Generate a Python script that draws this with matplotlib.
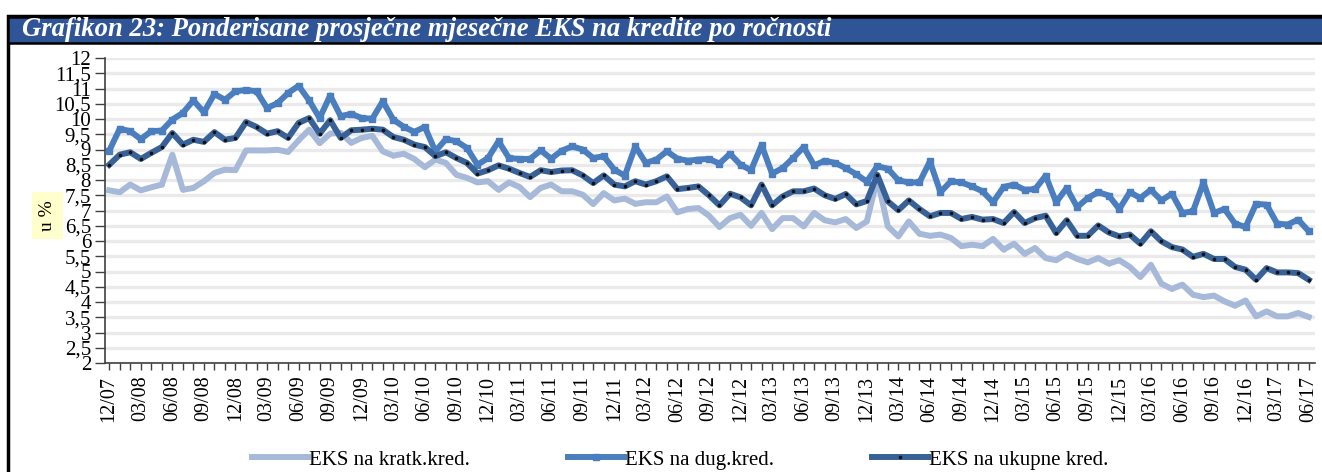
import matplotlib
matplotlib.use('Agg')
import matplotlib.pyplot as plt
from matplotlib.patches import Rectangle
import numpy as np
import pandas as pd

W, H = 1322, 472

# ---------------- data ----------------
months = pd.period_range('2007-12', '2017-06', freq='M')
month_labels = [p.strftime('%m/%y') for p in months]

kratk = [7.66, 7.60, 7.85, 7.66, 7.76, 7.85, 8.83, 7.68, 7.74, 7.96,
         8.23, 8.34, 8.32, 8.97, 8.97, 8.97, 8.99, 8.92, 9.30, 9.65,
         9.21, 9.52, 9.55, 9.22, 9.38, 9.45, 8.94, 8.80, 8.86, 8.69,
         8.42, 8.67, 8.56, 8.17, 8.07, 7.92, 7.96, 7.68, 7.92, 7.77,
         7.44, 7.74, 7.85, 7.63, 7.63, 7.52, 7.21, 7.57, 7.33, 7.39,
         7.22, 7.27, 7.27, 7.46, 6.94, 7.05, 7.08, 6.83, 6.46, 6.75,
         6.86, 6.50, 6.92, 6.39, 6.75, 6.75, 6.48, 6.92, 6.68, 6.61,
         6.72, 6.43, 6.64, 8.05, 6.48, 6.15, 6.64, 6.24, 6.17, 6.21,
         6.10, 5.83, 5.88, 5.83, 6.07, 5.72, 5.91, 5.58, 5.77, 5.44,
         5.37, 5.58, 5.41, 5.30, 5.44, 5.26, 5.37, 5.15, 4.82, 5.22,
         4.60, 4.43, 4.57, 4.24, 4.16, 4.21, 4.02, 3.88, 4.05, 3.53,
         3.69, 3.53, 3.53, 3.64, 3.51]

dug = [8.96, 9.68, 9.60, 9.34, 9.60, 9.62, 9.98, 10.20, 10.61, 10.22,
       10.82, 10.63, 10.91, 10.95, 10.91, 10.36, 10.52, 10.85, 11.09, 10.61,
       10.03, 10.77, 10.09, 10.17, 10.03, 10.01, 10.58, 9.98, 9.74, 9.58,
       9.74, 8.94, 9.34, 9.27, 9.05, 8.50, 8.72, 9.27, 8.72, 8.69,
       8.69, 8.97, 8.70, 8.96, 9.10, 9.00, 8.72, 8.78, 8.34, 8.14,
       9.10, 8.56, 8.67, 8.94, 8.70, 8.63, 8.67, 8.69, 8.54, 8.86,
       8.50, 8.32, 9.14, 8.21, 8.39, 8.72, 9.08, 8.48, 8.63, 8.56,
       8.39, 8.19, 7.95, 8.45, 8.37, 7.99, 7.92, 7.92, 8.61, 7.60,
       7.96, 7.92, 7.79, 7.63, 7.27, 7.77, 7.85, 7.68, 7.70, 8.14,
       7.27, 7.74, 7.11, 7.41, 7.60, 7.49, 7.05, 7.60, 7.41, 7.68,
       7.33, 7.55, 6.92, 6.97, 7.92, 6.92, 7.05, 6.57, 6.46, 7.22,
       7.19, 6.57, 6.54, 6.70, 6.32]

ukupne = [8.50, 8.83, 8.91, 8.69, 8.89, 9.08, 9.54, 9.16, 9.32, 9.25,
          9.57, 9.32, 9.38, 9.90, 9.74, 9.52, 9.60, 9.38, 9.87, 10.03,
          9.52, 9.96, 9.38, 9.63, 9.65, 9.68, 9.65, 9.41, 9.32, 9.16,
          9.08, 8.78, 8.91, 8.72, 8.56, 8.21, 8.32, 8.48, 8.37, 8.23,
          8.10, 8.32, 8.26, 8.31, 8.32, 8.15, 7.90, 8.15, 7.85, 7.79,
          7.96, 7.85, 7.96, 8.12, 7.70, 7.74, 7.79, 7.50, 7.17, 7.55,
          7.43, 7.17, 7.85, 7.17, 7.46, 7.63, 7.63, 7.72, 7.50, 7.38,
          7.54, 7.20, 7.31, 8.17, 7.30, 7.01, 7.33, 7.05, 6.81, 6.92,
          6.92, 6.72, 6.79, 6.70, 6.72, 6.59, 6.95, 6.59, 6.75, 6.83,
          6.26, 6.68, 6.17, 6.17, 6.51, 6.28, 6.15, 6.21, 5.91, 6.32,
          5.99, 5.80, 5.72, 5.48, 5.58, 5.41, 5.41, 5.15, 5.06, 4.73,
          5.11, 4.97, 4.97, 4.95, 4.73]

series_names = ['EKS na kratk.kred.', 'EKS na dug.kred.', 'EKS na ukupne kred.']

yticks = [2, 2.5, 3, 3.5, 4, 4.5, 5, 5.5, 6, 6.5, 7, 7.5, 8, 8.5, 9, 9.5,
          10, 10.5, 11, 11.5, 12]
ytick_labels = ['2', '2,5', '3', '3,5', '4', '4,5', '5', '5,5', '6', '6,5',
                '7', '7,5', '8', '8,5', '9', '9,5', '10', '10,5', '11', '11,5', '12']

title = 'Grafikon 23: Ponderisane prosječne mjesečne EKS na kredite po ročnosti'

# ---------------- style ----------------
plt.rcParams['font.family'] = ['Liberation Serif', 'DejaVu Serif']
c_kratk = '#A7B9D8'
c_dug = '#4A7EBF'
c_uk = '#386297'
c_bar = '#2F5597'
c_grid = '#EAEAEA'

fig = plt.figure(figsize=(W / 100, H / 100), dpi=100)


def fx(px):
    return px / W


def fy(py):
    return 1 - py / H


# frame + title bar
fig.patches.append(Rectangle((fx(8), fy(500)), fx(1340) - fx(8), fy(16) - fy(500),
                             transform=fig.transFigure, facecolor='none',
                             edgecolor='black', lw=2.5, clip_on=False))
fig.patches.append(Rectangle((fx(8), fy(43)), 1.05, fy(17) - fy(43),
                             transform=fig.transFigure, facecolor=c_bar,
                             edgecolor='black', lw=1.8, clip_on=False))
t = fig.text(fx(22), fy(30), title, color='white', fontweight='bold',
             fontstyle='italic', fontsize=16, va='center', ha='left')
fig.canvas.draw()
bb = t.get_window_extent()
t.set_fontsize(16 * (808 / bb.width))

# axes
ax = fig.add_axes([fx(105), fy(363), fx(1315) - fx(105), fy(58) - fy(363)])
x = np.arange(len(months))

ax.plot(x, kratk, color=c_kratk, lw=4.3, zorder=3,
        marker='o', ms=2, label=series_names[0])
ax.plot(x, dug, color=c_dug, lw=4.3, marker='s', ms=5, zorder=4,
        label=series_names[1])
ax.plot(x, ukupne, color=c_uk, lw=4.3, marker='o', ms=1.6, mfc='#111111',
        mec='#111111', zorder=5, label=series_names[2])

ax.set_xlim(-0.4, len(months) - 1 + 0.6)
ax.set_ylim(2, 12)
ax.set_yticks(yticks)
ax.set_yticklabels(ytick_labels, fontsize=15)
ax.set_xticks(x)
ax.set_xticklabels([lab if i % 3 == 0 else '' for i, lab in enumerate(month_labels)],
                   rotation=90, fontsize=14.5)
ax.tick_params(axis='y', length=7, width=1, color='#404040', pad=3)
ax.tick_params(axis='x', length=5, width=1, color='#404040', pad=4)
ax.yaxis.grid(True, color=c_grid, lw=2.4)
ax.set_axisbelow(True)
for s in ['top', 'right']:
    ax.spines[s].set_visible(False)
for s in ['left', 'bottom']:
    ax.spines[s].set_color('#404040')
    ax.spines[s].set_linewidth(1.2)

# y label box
fig.patches.append(Rectangle((fx(32), fy(239)), fx(63) - fx(32), fy(192) - fy(239),
                             transform=fig.transFigure, facecolor='#FFFFCC',
                             edgecolor='none', zorder=0))
fig.text(fx(47.5), fy(215.5), 'u %', rotation=90, fontsize=14, ha='center',
         va='center')

leg = fig.legend(loc='center', bbox_to_anchor=(fx(680), fy(460)), ncol=3,
                 frameon=False, fontsize=15, handlelength=2.7,
                 handletextpad=0.05, columnspacing=4.7, borderaxespad=0)

fig.savefig('out.png', dpi=100)
